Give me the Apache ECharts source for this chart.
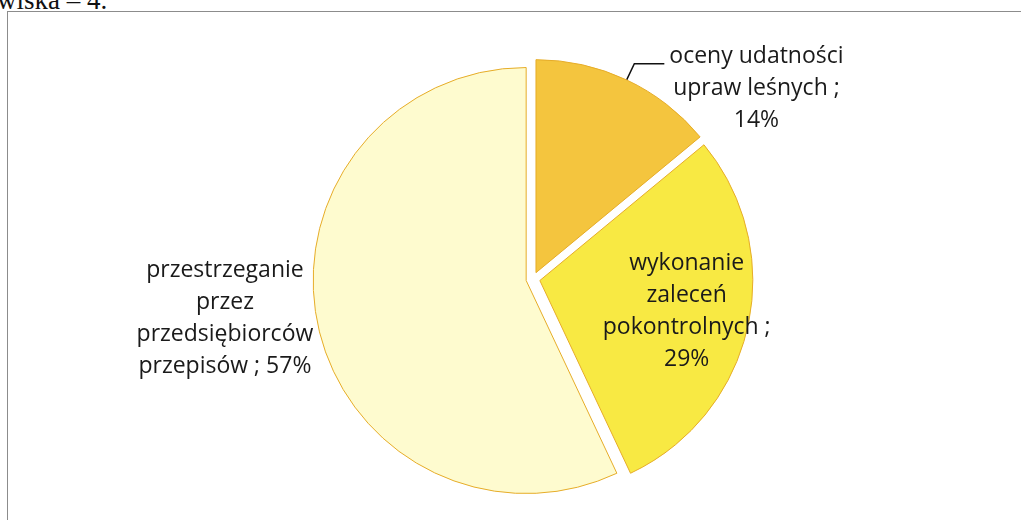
<!DOCTYPE html>
<html>
<head>
<meta charset="utf-8">
<script src="https://cdn.jsdelivr.net/npm/echarts@6/dist/echarts.min.js"></script>
<style>
  html, body { margin: 0; padding: 0; background: #fff; overflow: hidden; }
  #head { position: absolute; left: -3px; top: -13px; font: 27px "Liberation Serif", serif; line-height: 27px; color: #111; white-space: nowrap; }
  #frame { position: absolute; left: 7px; top: 11px; width: 1100px; height: 600px; border-top: 1px solid #8c8c8c; border-left: 1px solid #8c8c8c; }
  #container { position: absolute; left: 0; top: 0; width: 1021px; height: 520px; }
</style>
</head>
<body>
<div id="head">wiska – 4.</div>
<div id="frame"></div>
<div id="container"></div>
<script>
var names = ["oceny udatności upraw leśnych", "wykonanie zaleceń pokontrolnych", "przestrzeganie przez przedsiębiorców przepisów"];
var values = [14, 29, 57];
var colors = ["#F4C53E", "#F8E943", "#FEFBCF"];
// how the label text wraps in the original ({v} = value)
var labelRows = [
  ["oceny udatności", "upraw leśnych ;", "{v}%"],
  ["wykonanie", "zaleceń", "pokontrolnych ;", "{v}%"],
  ["przestrzeganie", "przez", "przedsiębiorców", "przepisów ; {v}%"]
];

var dom = document.getElementById("container");
var myChart = echarts.init(dom);
var font = "Open Sans";

var labelOpts = [
  { position: "outside", padding: [50, 0, 0, 0] },
  { position: "inside", padding: [14, 0, 0, 80] },
  { position: "outside", padding: [0, 0, 18, 0] }
];
var lineOpts = [
  { show: true, length: 18, length2: 30, lineStyle: { color: "#111", width: 1.5 } },
  { show: false },
  { show: false, length: 0, length2: 0 }
];

var data = values.map(function (v, i) {
  return {
    value: v,
    name: names[i],
    selected: true,
    itemStyle: { color: colors[i] },
    label: labelOpts[i],
    labelLine: lineOpts[i]
  };
});

var option = {
  animation: false,
  series: [
    {
      type: "pie",
      center: [533, 279],
      radius: 213,
      startAngle: 90,
      clockwise: true,
      selectedMode: "multiple",
      selectedOffset: 7,
      avoidLabelOverlap: false,
      itemStyle: { borderColor: "#E6AC28", borderWidth: 1 },
      select: { itemStyle: { borderColor: "#E6AC28", borderWidth: 1 } },
      emphasis: { disabled: true },
      label: {
        color: "#1a1a1a",
        fontFamily: font,
        fontSize: 23,
        lineHeight: 32,
        formatter: function (p) {
          return labelRows[p.dataIndex].map(function (r) {
            return "{c|" + r.replace("{v}", p.value) + "}";
          }).join("\n");
        },
        rich: {
          c: { align: "center", fontFamily: font, fontSize: 23, lineHeight: 32, color: "#1a1a1a" }
        }
      },
      data: data
    }
  ]
};
myChart.setOption(option, true);
</script>
</body>
</html>
